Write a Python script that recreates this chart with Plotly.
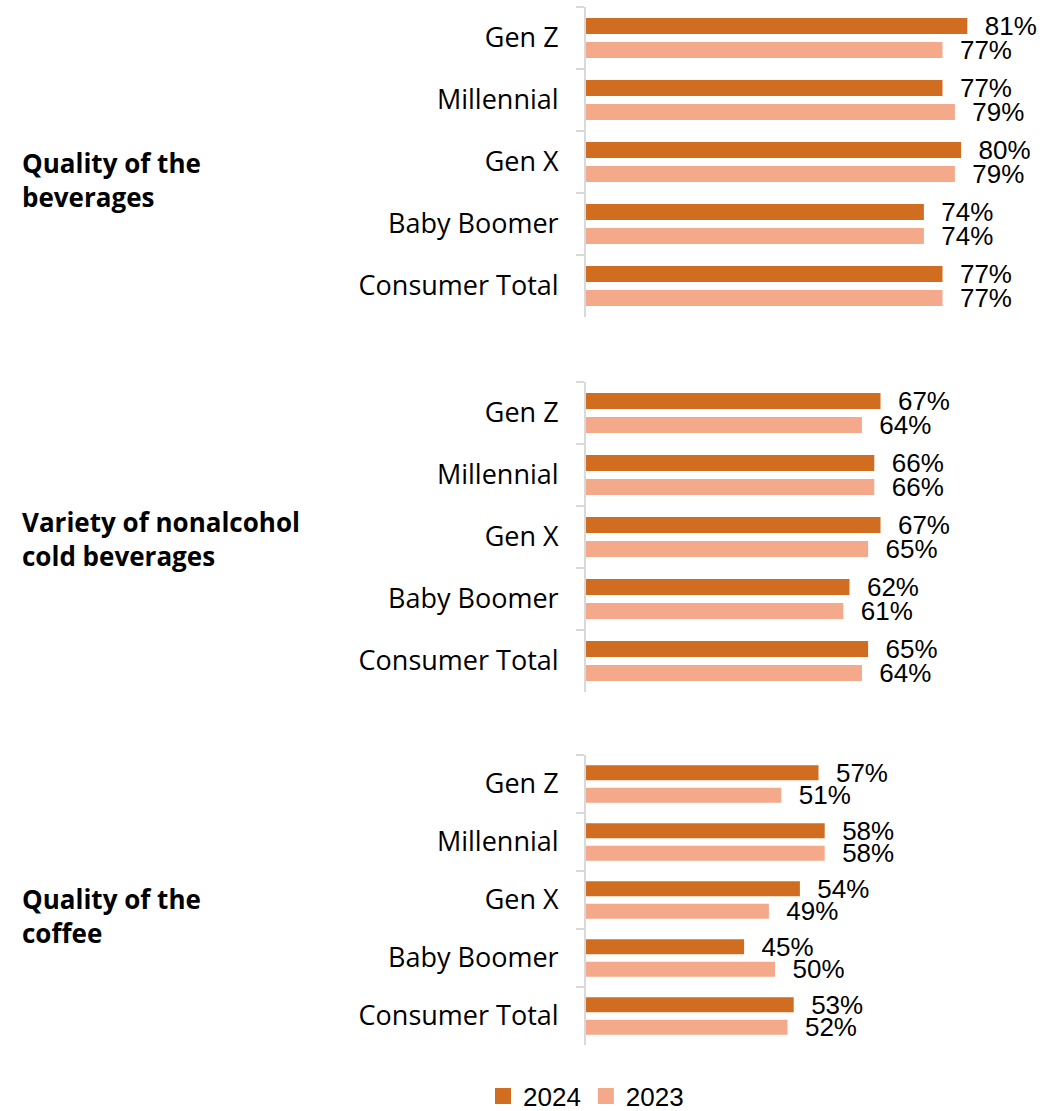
import plotly.graph_objects as go
from plotly.subplots import make_subplots

categories = ["Gen Z", "Millennial", "Gen X", "Baby Boomer", "Consumer Total"]
groups = ["Quality of the<br>beverages", "Variety of nonalcohol<br>cold beverages", "Quality of the<br>coffee"]
series_names = ["2024", "2023"]
beverages_2024 = [81, 77, 80, 74, 77]
beverages_2023 = [77, 79, 79, 74, 77]
variety_2024 = [67, 66, 67, 62, 65]
variety_2023 = [64, 66, 65, 61, 64]
coffee_2024 = [57, 58, 54, 45, 53]
coffee_2023 = [51, 58, 49, 50, 52]

panels = [(beverages_2024, beverages_2023), (variety_2024, variety_2023), (coffee_2024, coffee_2023)]
colors = ["#D06D20", "#F3A98A"]

W, H = 1061, 1111
panel_px = [(7, 317), (382, 692), (755, 1045)]
group_label_y = [180, 539, 916]

fig = make_subplots(rows=3, cols=1, shared_xaxes=False)

for i, (v24, v23) in enumerate(panels):
    for j, vals in enumerate([v24, v23]):
        fig.add_trace(
            go.Bar(
                y=categories, x=vals, orientation="h",
                name=series_names[j], marker_color=colors[j],
                marker_line_width=0,
                text=vals, texttemplate="\u00a0\u00a0%{x}%",
                textposition="outside", cliponaxis=False,
                constraintext="none",
                textfont=dict(family="Liberation Sans, Arial", size=26, color="#000"),
                showlegend=False,
            ),
            row=i + 1, col=1,
        )

# legend entries with larger square swatches
for j, name in enumerate(series_names):
    fig.add_trace(
        go.Scatter(
            x=[None], y=[None], mode="markers", name=name,
            marker=dict(symbol="square", size=17, color=colors[j]),
            showlegend=True,
        ),
        row=1, col=1,
    )

x0_px = 586
px_per_unit = 6.2
xmin = 19.5
xmax = xmin + (W - x0_px) / px_per_unit

layout_updates = {}
for i, (top, bot) in enumerate(panel_px):
    n = "" if i == 0 else str(i + 1)
    layout_updates["xaxis" + n] = dict(
        domain=[x0_px / W, 1.0], range=[xmin, xmax], visible=False,
    )
    layout_updates["yaxis" + n] = dict(
        domain=[1 - bot / H, 1 - top / H], autorange="reversed",
        showline=True, linecolor="#D9D9D9", linewidth=2,
        ticks="outside", tickson="boundaries", ticklen=8, tickcolor="#D9D9D9", tickwidth=2,
        ticklabelstandoff=20,
        tickfont=dict(family="Open Sans", size=27, color="#000"),
        showgrid=False, zeroline=False,
    )
fig.update_layout(**layout_updates)

for i, g in enumerate(groups):
    fig.add_annotation(
        text="<b>" + g + "</b>", xref="paper", yref="paper",
        x=20 / W, y=1 - group_label_y[i] / H, xanchor="left", yanchor="middle",
        align="left", showarrow=False,
        font=dict(family="Open Sans", size=26, color="#000"),
    )

fig.update_layout(
    width=W, height=H,
    margin=dict(l=0, r=0, t=0, b=0, autoexpand=False),
    paper_bgcolor="white", plot_bgcolor="white",
    barmode="group", bargap=0.225, bargroupgap=0.33,
    legend=dict(
        orientation="h", x=586 / W, xanchor="center", y=1 - 1096 / H, yanchor="middle",
        font=dict(family="Liberation Sans, Arial", size=26, color="#000"),
        traceorder="normal", itemwidth=30,
    ),
)

fig.write_html(
    "out.html",
    config={"displayModeBar": False},
    post_script="document.body.style.margin='0';",
)
